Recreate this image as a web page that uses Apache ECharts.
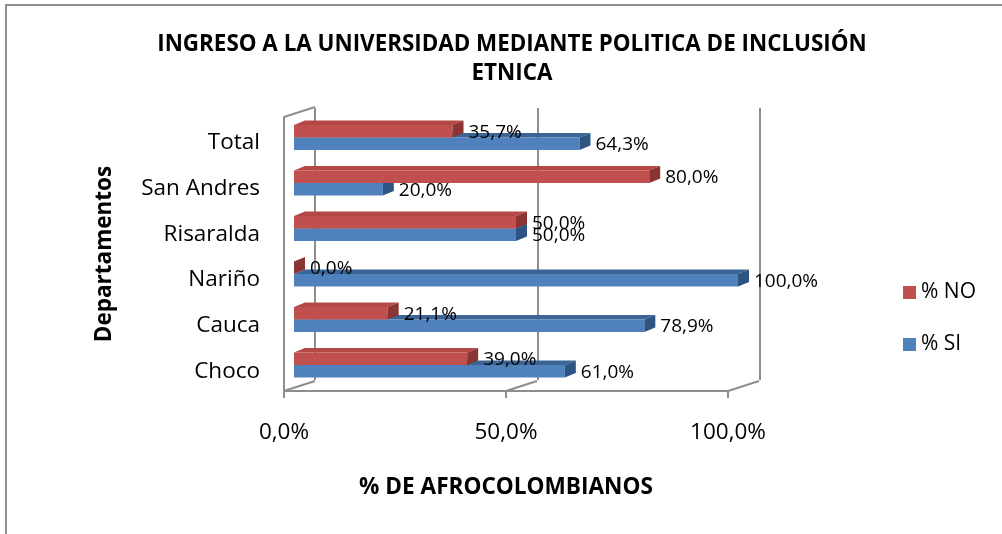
<!DOCTYPE html>
<html>
<head>
<meta charset="utf-8">
<script src="https://cdn.jsdelivr.net/npm/echarts@6/dist/echarts.min.js"></script>
<style>
  html, body { margin: 0; padding: 0; background: #fff; }
  #chart { width: 1002px; height: 534px; }
</style>
</head>
<body>
<div id="chart"></div>
<script>
// datos (de abajo hacia arriba)
var categories = ['Choco', 'Cauca', 'Nariño', 'Risaralda', 'San Andres', 'Total'];
var siValues = [61.0, 78.9, 100.0, 50.0, 20.0, 64.3];
var noValues = [39.0, 21.1, 0.0, 50.0, 80.0, 35.7];
var xTicks = [0, 50, 100];
var seriesNames = ['% NO', '% SI'];

var FONT = '"Open Sans", "Noto Sans", sans-serif';
var GRID_COLOR = '#8e8e8e';
// profundidad del marco 3D (pared de fondo respecto al frente)
var DEPTH = [31, -10];
// profundidad de cada barra
var BAR_DEPTH = [11, -4.5];
var BAR_RATIO = 0.275;

function fmt(v) {
    return v.toFixed(1).replace('.', ',') + '%';
}

function toData(arr) {
    return arr.map(function (v, i) { return [v, i]; });
}

// barra con cara frontal, superior y lateral
function bar3d(front, top, side, upper) {
    return function (params, api) {
        var v = api.value(0);
        var c = api.value(1);
        var p0 = api.coord([0, c]);
        var p1 = api.coord([v, c]);
        var h = api.size([0, 1])[1] * BAR_RATIO;
        var y0 = upper ? p0[1] - h : p0[1];
        var y1 = y0 + h;
        var x0 = p0[0], x1 = p1[0];
        var dx = BAR_DEPTH[0], dy = BAR_DEPTH[1];
        return {
            type: 'group',
            children: [
                {
                    type: 'polygon',
                    shape: { points: [[x0, y0], [x0 + dx, y0 + dy], [x1 + dx, y0 + dy], [x1, y0]] },
                    style: { fill: top }
                },
                {
                    type: 'rect',
                    shape: { x: x0, y: y0, width: x1 - x0, height: h },
                    style: { fill: front }
                },
                {
                    type: 'polygon',
                    shape: { points: [[x1, y0], [x1 + dx, y0 + dy], [x1 + dx, y1 + dy], [x1, y1]] },
                    style: { fill: side }
                },
                {
                    type: 'text',
                    x: x1 + 16,
                    y: (y0 + y1) / 2 + 1,
                    z2: 20,
                    style: {
                        text: fmt(v),
                        fill: '#000',
                        font: '19px ' + FONT,
                        verticalAlign: 'middle',
                        align: 'left'
                    }
                }
            ]
        };
    };
}

// lineas diagonales que unen el frente con la pared de fondo
function frameLines(params, api) {
    var t = api.value(0);
    var edge = api.value(1);
    var band = api.size([0, 1])[1];
    var p = api.coord([t, edge ? categories.length - 1 : 0]);
    var y = edge ? p[1] - band / 2 : p[1] + band / 2;
    return {
        type: 'line',
        shape: { x1: p[0], y1: y, x2: p[0] + DEPTH[0], y2: y + DEPTH[1] },
        style: { stroke: GRID_COLOR, lineWidth: 2 }
    };
}

var frameData = xTicks.map(function (t) { return [t, 0]; }).concat([[0, 1]]);

var chart = echarts.init(document.getElementById('chart'));

var option = {
    backgroundColor: '#fff',
    animation: false,
    title: {
        text: 'INGRESO A LA UNIVERSIDAD MEDIANTE POLITICA DE INCLUSIÓN\nETNICA',
        left: 507,
        top: 25,
        textAlign: 'center',
        textStyle: {
            fontFamily: FONT,
            fontWeight: 'bold',
            fontSize: 22.4,
            lineHeight: 29,
            color: '#000'
        }
    },
    legend: {
        data: seriesNames,
        orient: 'vertical',
        left: 903,
        top: 282,
        padding: 0,
        icon: 'rect',
        itemWidth: 13,
        itemHeight: 13,
        itemGap: 31,
        textStyle: { fontFamily: FONT, fontSize: 21, color: '#000' }
    },
    graphic: [{
        type: 'rect',
        shape: { x: 6, y: 5, width: 1200, height: 800 },
        style: { fill: 'none', stroke: GRID_COLOR, lineWidth: 2 },
        silent: true,
        z: -10
    }],
    grid: [
        // plano de las barras
        { left: 294, right: 264, top: 114.75, bottom: 146.25 },
        // plano frontal (ejes)
        { left: 284, right: 274, top: 117, bottom: 143 },
        // pared de fondo
        { left: 315, right: 242, top: 108, bottom: 154 }
    ],
    xAxis: [
        { gridIndex: 0, type: 'value', min: 0, max: 100, show: false },
        {
            gridIndex: 1, type: 'value', min: 0, max: 100, interval: 50,
            axisLine: { show: true, lineStyle: { color: GRID_COLOR, width: 2 } },
            axisTick: { show: true, inside: false, length: 7, lineStyle: { color: GRID_COLOR, width: 2 } },
            splitLine: { show: false },
            axisLabel: {
                margin: 30,
                formatter: fmt,
                fontFamily: FONT, fontSize: 22.5, color: '#000'
            },
            name: '% DE AFROCOLOMBIANOS',
            nameLocation: 'middle',
            nameGap: 85,
            nameTextStyle: { fontFamily: FONT, fontWeight: 'bold', fontSize: 22.6, color: '#000' }
        },
        {
            gridIndex: 2, type: 'value', min: 0, max: 100, interval: 50,
            axisLine: { show: false },
            axisTick: { show: false },
            axisLabel: { show: false },
            splitLine: { show: true, lineStyle: { color: GRID_COLOR, width: 2 } }
        }
    ],
    yAxis: [
        { gridIndex: 0, type: 'category', data: categories, show: false },
        {
            gridIndex: 1, type: 'category', data: categories,
            axisLine: { show: true, lineStyle: { color: GRID_COLOR, width: 2 } },
            axisTick: { show: false },
            axisLabel: {
                margin: 24,
                formatter: function (v) { return '{c|' + v + '}'; },
                rich: {
                    c: { padding: [6, 0, 0, 0], fontFamily: FONT, fontSize: 22.5, color: '#000' }
                },
                fontFamily: FONT, fontSize: 22.5, color: '#000'
            },
            name: 'Departamentos',
            nameLocation: 'middle',
            nameRotate: 90,
            nameGap: 168,
            nameTextStyle: { fontFamily: FONT, fontWeight: 'bold', fontSize: 22.5, color: '#000' }
        },
        { gridIndex: 2, type: 'category', data: categories, show: false }
    ],
    series: [
        {
            type: 'custom',
            name: 'frame',
            xAxisIndex: 1,
            yAxisIndex: 1,
            silent: true,
            z: 1,
            renderItem: frameLines,
            data: frameData
        },
        {
            type: 'custom',
            name: '% SI',
            xAxisIndex: 0,
            yAxisIndex: 0,
            z: 3,
            itemStyle: { color: '#4F81BD' },
            encode: { x: 0, y: 1 },
            renderItem: bar3d('#4F81BD', '#3B6595', '#2E5483', false),
            data: toData(siValues)
        },
        {
            type: 'custom',
            name: '% NO',
            xAxisIndex: 0,
            yAxisIndex: 0,
            z: 4,
            itemStyle: { color: '#C0504D' },
            encode: { x: 0, y: 1 },
            renderItem: bar3d('#C0504D', '#B34845', '#8A3533', true),
            data: toData(noValues)
        }
    ]
};

chart.setOption(option);
</script>
</body>
</html>
